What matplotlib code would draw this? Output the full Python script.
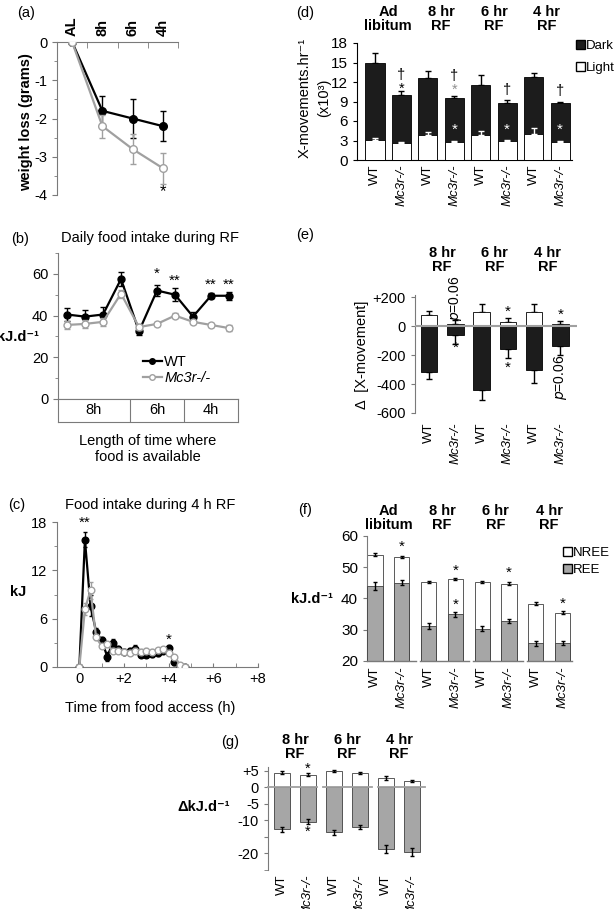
import numpy as np
import matplotlib
matplotlib.use('Agg')
import matplotlib.pyplot as plt
from matplotlib.patches import Patch
from matplotlib.lines import Line2D
import matplotlib.transforms as mtrans

plt.rcParams['font.family'] = ['Liberation Sans', 'DejaVu Sans']
plt.rcParams['font.size'] = 10
plt.rcParams['axes.unicode_minus'] = False

# ---------------- data ----------------
# (a) weight loss
wl_labels = ['AL', '8h', '6h', '4h']
wl_wt = [0, -1.8, -2.0, -2.2]
wl_wt_err = [0, 0.4, 0.5, 0.4]
wl_ko = [0, -2.2, -2.8, -3.3]
wl_ko_err = [0, 0.3, 0.4, 0.4]

# (b) daily food intake during RF
day_wt = [40.5, 39.5, 40.5, 57.5, 32.5, 52, 50, 39.5, 49.5, 49.5]
day_wt_err = [3, 3, 3.5, 3.5, 2, 2.5, 3, 2, 1.2, 2]
day_ko = [35.5, 36, 37, 50.5, 34.5, 36, 40, 37, 35.5, 34]
day_ko_err = [2, 2, 2, 2, 1.5, 1, 1, 1, 1, 1.5]
day_groups = ['8h', '6h', '4h']
day_stars = ['', '', '', '', '', '*', '**', '', '**', '**']
day_star_y = [0, 0, 0, 0, 0, 60, 56.5, 0, 55, 55]

# (c) food intake during 4 h RF
t_hours = [0, 0.25, 0.5, 0.75, 1.0, 1.25, 1.5, 1.75, 2.0, 2.25,
           2.5, 2.75, 3.0, 3.25, 3.5, 3.75, 4.0, 4.25, 4.5, 4.75]
fi_wt = [0, 15.8, 7.6, 4.4, 3.3, 1.3, 3.0, 2.2, 1.9, 2.0,
         2.2, 1.5, 1.5, 1.6, 1.7, 2.0, 2.4, 0.6, 0.1, 0]
fi_wt_err = [0, 0.9, 1.3, 0.5, 0.4, 0.6, 0.5, 0.4, 0.3, 0.4,
             0.5, 0.3, 0.3, 0.3, 0.3, 0.3, 0.3, 0.3, 0.1, 0]
fi_ko = [0, 7.2, 9.5, 3.7, 2.6, 2.8, 2.0, 2.0, 1.9, 1.8,
         2.0, 1.9, 2.0, 1.9, 2.1, 2.2, 1.8, 1.3, 0.3, 0]
fi_ko_err = [0, 0.8, 1.0, 0.4, 0.3, 0.3, 0.3, 0.3, 0.3, 0.3,
             0.3, 0.3, 0.3, 0.3, 0.3, 0.3, 0.3, 0.2, 0.1, 0]

# shared bar-chart categories
group_rf = ['Ad\nlibitum', '8 hr\nRF', '6 hr\nRF', '4 hr\nRF']
geno = ['WT', 'Mc3r-/-']

# (d) activity
act_total = [15.0, 10.0, 12.6, 9.6, 11.6, 8.8, 12.8, 8.8]
act_total_err = [1.5, 0.6, 1.1, 0.2, 1.5, 0.4, 0.6, 0.15]
act_light = [3.1, 2.6, 3.8, 2.7, 3.9, 2.9, 4.0, 2.7]
act_light_err = [0.3, 0.2, 0.5, 0.2, 0.5, 0.2, 1.0, 0.3]

# (e) change in activity
dact_light = [75, 13, 100, 27, 100, 13]
dact_light_err = [30, 27, 50, 27, 50, 21]
dact_dark = [-318, -61, -440, -156, -305, -136]
dact_dark_err = [50, 61, 68, 61, 88, 61]

# (f) energy expenditure
ee_total = [54.0, 53.2, 45.3, 46.3, 45.2, 44.8, 38.4, 35.5]
ee_total_err = [0.4, 0.4, 0.4, 0.4, 0.3, 0.5, 0.5, 0.4]
ee_ree = [44.0, 45.1, 31.3, 34.9, 30.4, 32.8, 25.7, 25.7]
ee_ree_err = [1.3, 0.7, 0.9, 0.7, 0.9, 0.7, 0.8, 0.7]

# (g) change in energy expenditure
dee_nree = [4.4, 3.7, 4.9, 4.2, 2.6, 1.7]
dee_nree_err = [0.4, 0.4, 0.3, 0.4, 0.6, 0.3]
dee_ree = [-12.7, -10.4, -13.6, -12.1, -18.6, -19.6]
dee_ree_err = [0.8, 0.7, 0.7, 0.6, 1.2, 1.1]

# ---------------- figure ----------------
W, H = 614, 909
fig = plt.figure(figsize=(W / 100, H / 100), dpi=100)

GREY = '#a0a0a0'
FILL = '#a6a6a6'
AXC = '#7a7a7a'
DARK = '#1c1c1c'


def ax_px(l, t, r, b):
    return fig.add_axes([l / W, 1 - b / H, (r - l) / W, (b - t) / H])


def ftext(x, y, s, **kw):
    fig.text(x / W, 1 - y / H, s, **kw)


def header(ax, xs, labels, y):
    tr = mtrans.blended_transform_factory(ax.transData, fig.transFigure)
    for xx, lab in zip(xs, labels):
        ax.text(xx, 1 - y / H, lab, transform=tr, ha='center', va='center',
                fontweight='bold', fontsize=10.5, linespacing=1.05)


def bar_xlabels(ax, n, pad):
    ax.set_xticks(range(n))
    ax.set_xticklabels((geno * 4)[:n], rotation=90, fontsize=9.5, va='top')
    for lab in ax.get_xticklabels():
        if lab.get_text() != 'WT':
            lab.set_fontstyle('italic')
    ax.tick_params(axis='x', length=0, pad=pad)


def line_style(ax):
    for s in ['top', 'right']:
        ax.spines[s].set_visible(False)
    for s in ['left', 'bottom', 'top']:
        ax.spines[s].set_color(AXC)
    ax.tick_params(colors=AXC, labelcolor='black', labelsize=10.5)
    ax.tick_params(which='minor', colors=AXC)


# ---------- (a) ----------
ax = ax_px(57, 42, 178, 195)
line_style(ax)
ax.spines['top'].set_visible(True)
ax.spines['bottom'].set_visible(False)
x4 = np.arange(4)
ax.errorbar(x4, wl_wt, yerr=wl_wt_err, color='black', lw=1.6, marker='o', ms=5.5,
            mfc='black', mec='black', capsize=2, elinewidth=1, zorder=3)
ax.errorbar(x4, wl_ko, yerr=wl_ko_err, color=GREY, lw=1.6, marker='o', ms=5.5,
            mfc='white', mec=GREY, capsize=2, elinewidth=1, zorder=4)
ax.set_xlim(-0.5, 3.5)
ax.set_ylim(-4, 0)
ax.xaxis.tick_top()
ax.set_xticks(x4)
ax.set_xticklabels(wl_labels, rotation=90, fontweight='bold', fontsize=10.5)
ax.set_xticks([-0.5, 0.5, 1.5, 2.5, 3.5], minor=True)
ax.tick_params(axis='x', which='major', length=0, pad=4)
ax.tick_params(axis='x', which='minor', length=4, direction='in', top=True, bottom=False)
ax.set_yticks([0, -1, -2, -3, -4])
ax.set_yticklabels(['0', '-1', '-2', '-3', '-4'])
ax.set_yticks([-0.5, -1.5, -2.5, -3.5], minor=True)
ax.tick_params(axis='y', which='minor', length=2)
ax.text(3, -3.9, '*', ha='center', va='center', fontsize=12)
ftext(17, 13, '(a)', ha='left', va='center', fontsize=10.5)
ftext(26, 122, 'weight loss (grams)', rotation=90, ha='center', va='center',
      fontweight='bold', fontsize=10.5)

# ---------- (b) ----------
ax = ax_px(58, 253, 238, 399)
line_style(ax)
x10 = np.arange(10)
ax.errorbar(x10, day_wt, yerr=day_wt_err, color='black', lw=1.6, marker='o', ms=5,
            mfc='black', mec='black', capsize=2, elinewidth=1, zorder=3)
ax.errorbar(x10, day_ko, yerr=day_ko_err, color=GREY, lw=1.6, marker='o', ms=5,
            mfc='white', mec=GREY, capsize=2, elinewidth=1, zorder=4)
for xx, s, yy in zip(x10, day_stars, day_star_y):
    if s:
        ax.text(xx, yy, s, ha='center', va='center', fontsize=11)
ax.set_xlim(-0.5, 9.5)
ax.set_ylim(0, 70)
ax.set_xticks([])
ax.set_yticks([0, 20, 40, 60])
ax.set_yticks([10, 30, 50, 70], minor=True)
ax.tick_params(axis='y', which='minor', length=2)
leg_handles = [Line2D([], [], color='black', lw=1.6, marker='o', ms=4, mfc='black', label='WT'),
               Line2D([], [], color=GREY, lw=1.6, marker='o', ms=4, mfc='white', mec=GREY,
                      label='Mc3r-/-')]
leg = ax.legend(handles=leg_handles, loc='upper left', bbox_to_anchor=(143 / W, 1 - 355 / H),
                bbox_transform=fig.transFigure, frameon=False, fontsize=10.5,
                handlelength=1.3, handletextpad=0.15, labelspacing=0.15,
                borderpad=0, borderaxespad=0)
leg.get_texts()[1].set_fontstyle('italic')
ftext(20, 239, '(b)', ha='center', va='center', fontsize=10.5)
ftext(150, 238, 'Daily food intake during RF', ha='center', va='center', fontsize=10.5)
ftext(18, 337, 'kJ.d⁻¹', ha='center', va='center', fontweight='bold', fontsize=10.5)

tab = ax_px(58, 399, 238, 422)
tab.set_xlim(-0.5, 9.5)
tab.set_ylim(0, 1)
tab.set_xticks([])
tab.set_yticks([])
for s in tab.spines.values():
    s.set_color(AXC)
for xv in [3.5, 6.5]:
    tab.axvline(xv, color=AXC, lw=0.8)
for xc, lab in zip([1.5, 5, 8], day_groups):
    tab.text(xc, 0.5, lab, ha='center', va='center', fontsize=10.5)
ftext(148, 449, 'Length of time where\nfood is available', ha='center', va='center',
      fontsize=10.5, linespacing=1.2)

# ---------- (c) ----------
ax = ax_px(57, 522, 258, 667)
line_style(ax)
ax.errorbar(t_hours, fi_wt, yerr=fi_wt_err, color='black', lw=1.6, marker='o', ms=4.8,
            mfc='black', mec='black', capsize=1.5, elinewidth=1, zorder=3)
ax.errorbar(t_hours, fi_ko, yerr=fi_ko_err, color=GREY, lw=1.6, marker='o', ms=4.8,
            mfc='white', mec=GREY, capsize=1.5, elinewidth=1, zorder=4)
ax.set_xlim(-1, 8)
ax.set_ylim(0, 18)
ax.set_xticks([0, 2, 4, 6, 8])
ax.set_xticklabels(['0', '+2', '+4', '+6', '+8'])
ax.set_xticks([-1, 1, 3, 5, 7], minor=True)
ax.tick_params(axis='x', which='both', direction='in', length=3)
ax.set_yticks([0, 6, 12, 18])
ax.set_yticks([3, 9, 15], minor=True)
ax.tick_params(axis='y', which='minor', length=2)
ax.text(0.25, 17.9, '**', ha='center', va='center', fontsize=11)
ax.text(4.0, 3.4, '*', ha='center', va='center', fontsize=11)
ftext(17, 505, '(c)', ha='center', va='center', fontsize=10.5)
ftext(150, 505, 'Food intake during 4 h RF', ha='center', va='center', fontsize=10.5)
ftext(18, 592, 'kJ', ha='center', va='center', fontweight='bold', fontsize=10.5)
ftext(150, 708, 'Time from food access (h)', ha='center', va='center', fontsize=10.5)

# ---------- (d) ----------
ax = ax_px(357, 43, 572, 160)
x8 = np.arange(8)
z8 = np.zeros(8)
ax.bar(x8, act_total, width=0.72, color=DARK, edgecolor='black', lw=0.6, zorder=2)
ax.errorbar(x8, act_total, yerr=[z8, act_total_err], fmt='none', ecolor='black',
            capsize=2.5, elinewidth=1, zorder=1)
ax.bar(x8, act_light, width=0.72, color='white', edgecolor='black', lw=0.6, zorder=3)
ax.errorbar(x8, act_light, yerr=[z8, act_light_err], fmt='none', ecolor='white',
            capsize=2, elinewidth=1, zorder=4)
ax.set_xlim(-0.68, 7.45)
ax.set_ylim(0, 18)
ax.set_yticks(range(0, 19, 3))
for s in ['top', 'right']:
    ax.spines[s].set_visible(False)
ax.tick_params(axis='y', labelsize=11, length=3)
bar_xlabels(ax, 8, 3)
header(ax, [0.5, 2.5, 4.5, 6.5], group_rf, 19)
for xx, yy in zip([1, 3, 5, 7], [13.0, 12.9, 10.7, 10.6]):
    ax.text(xx, yy, '†', ha='center', va='center', fontsize=10.5)
ax.text(1, 10.9, '*', ha='center', va='center', fontsize=10.5, color='black')
ax.text(3, 10.8, '*', ha='center', va='center', fontsize=10.5, color='#909090')
for xx in [3, 5, 7]:
    ax.text(xx, 4.7, '*', ha='center', va='center', fontsize=11, color='white', zorder=5)
ax.legend(handles=[Patch(facecolor=DARK, edgecolor='black', label='Dark'),
                   Patch(facecolor='white', edgecolor='black', label='Light')],
          loc='upper left', bbox_to_anchor=(576 / W, 1 - 40 / H),
          bbox_transform=fig.transFigure, frameon=False, fontsize=9.5,
          handlelength=0.65, handleheight=0.65, handletextpad=0.1, labelspacing=0.75,
          borderpad=0, borderaxespad=0)
ftext(305, 13, '(d)', ha='center', va='center', fontsize=10.5)
ftext(305, 98, 'X-movements.hr⁻¹', rotation=90, ha='center', va='center', fontsize=10.5)
ftext(324, 98, '(x10³)', rotation=90, ha='center', va='center', fontsize=10.5)

# ---------- (e) ----------
ax = ax_px(415, 295, 577, 413)
x6 = np.arange(6)
z6 = np.zeros(6)
ax.bar(x6, dact_light, width=0.63, color='white', edgecolor='black', lw=0.6, zorder=2)
ax.errorbar(x6, dact_light, yerr=[z6, dact_light_err], fmt='none', ecolor='black',
            capsize=2, elinewidth=1, zorder=1)
ax.bar(x6, dact_dark, width=0.63, color=DARK, edgecolor='black', lw=0.6, zorder=2)
ax.errorbar(x6, dact_dark, yerr=[dact_dark_err, z6], fmt='none', ecolor='black',
            capsize=2, elinewidth=1, zorder=1)
ax.axhline(0, color=GREY, lw=1.5, zorder=3)
ax.set_xlim(-0.53, 5.63)
ax.set_ylim(-600, 215)
ax.set_yticks([200, 0, -200, -400, -600])
ax.set_yticklabels(['+200', '0', '-200', '-400', '-600'])
for s in ['top', 'right', 'bottom']:
    ax.spines[s].set_visible(False)
ax.spines['left'].set_color(AXC)
ax.tick_params(axis='y', labelsize=10.5, length=3, color=AXC)
bar_xlabels(ax, 6, 7)
header(ax, [0.5, 2.5, 4.5], group_rf[1:], 260)
ax.text(1, 190, '$p$=0.06', rotation=90, ha='center', va='center', fontsize=10)
ax.text(5, -353, '$p$=0.06', rotation=90, ha='center', va='center', fontsize=10)
for xx, yy in [(1, -150), (3, 100), (3, -287), (5, 80)]:
    ax.text(xx, yy, '*', ha='center', va='center', fontsize=11)
ftext(305, 235, '(e)', ha='center', va='center', fontsize=10.5)
ftext(362, 355, 'Δ  [X-movement]', rotation=90, ha='center', va='center', fontsize=10.5)

# ---------- (f) ----------
ax = ax_px(367, 536, 572, 661)
ax.bar(x8, ee_total, width=0.57, color='white', edgecolor='#404040', lw=0.6, zorder=2)
ax.errorbar(x8, ee_total, yerr=ee_total_err, fmt='none', ecolor='black',
            capsize=1.5, elinewidth=1, zorder=4)
ax.bar(x8, ee_ree, width=0.57, color=FILL, edgecolor='#404040', lw=0.6, zorder=3)
ax.errorbar(x8, ee_ree, yerr=ee_ree_err, fmt='none', ecolor='black',
            capsize=1.5, elinewidth=1, zorder=4)
ax.set_xlim(-0.3, 7.35)
ax.set_ylim(20, 60)
ax.set_yticks(range(20, 61, 10))
for s in ['top', 'right', 'bottom']:
    ax.spines[s].set_visible(False)
ax.spines['left'].set_color(AXC)
ax.tick_params(axis='y', labelsize=11, length=3, color=AXC)
for x0, x1 in [(-0.3, 1.52), (1.67, 3.52), (3.67, 5.52), (5.67, 7.35)]:
    ax.plot([x0, x1], [20, 20], color=AXC, lw=1, clip_on=False, zorder=5)
bar_xlabels(ax, 8, 4)
header(ax, [0.5, 2.5, 4.5, 6.5], group_rf, 518)
for xx, yy in [(1, 56.5), (3, 49.0), (3, 38.0), (5, 48.3), (7, 38.3)]:
    ax.text(xx, yy, '*', ha='center', va='center', fontsize=11)
ax.legend(handles=[Patch(facecolor='white', edgecolor='black', label='NREE'),
                   Patch(facecolor=FILL, edgecolor='black', label='REE')],
          loc='upper left', bbox_to_anchor=(563 / W, 1 - 547 / H),
          bbox_transform=fig.transFigure, frameon=False, fontsize=9.5,
          handlelength=0.65, handleheight=0.65, handletextpad=0.1, labelspacing=0.4,
          borderpad=0, borderaxespad=0)
ftext(305, 510, '(f)', ha='center', va='center', fontsize=10.5)
ftext(312, 599, 'kJ.d⁻¹', ha='center', va='center', fontweight='bold', fontsize=10.5)

# ---------- (g) ----------
ax = ax_px(268, 767, 425, 870)
ax.bar(x6, dee_nree, width=0.58, color='white', edgecolor='#404040', lw=0.6, zorder=2)
ax.errorbar(x6, dee_nree, yerr=dee_nree_err, fmt='none', ecolor='black',
            capsize=1.5, elinewidth=1, zorder=4)
ax.bar(x6, dee_ree, width=0.58, color=FILL, edgecolor='#404040', lw=0.6, zorder=2)
ax.errorbar(x6, dee_ree, yerr=dee_ree_err, fmt='none', ecolor='black',
            capsize=1.5, elinewidth=1, zorder=4)
for x0, x1 in [(-0.54, 1.35), (1.58, 3.46), (3.69, 5.5)]:
    ax.plot([x0, x1], [0, 0], color=GREY, lw=1.3, zorder=3, clip_on=False)
ax.set_xlim(-0.54, 5.5)
ax.set_ylim(-25, 6.06)
ax.set_yticks([5, 0, -5, -10, -15, -20])
ax.set_yticklabels(['+5', '0', '-5', '-10', '', '-20'])
ax.set_yticks([-25], minor=True)
for s in ['top', 'right', 'bottom']:
    ax.spines[s].set_visible(False)
ax.spines['left'].set_color(AXC)
ax.tick_params(axis='y', which='both', labelsize=10.5, length=3, color=AXC)
bar_xlabels(ax, 6, 3)
header(ax, [0.5, 2.5, 4.5], group_rf[1:], 747)
ax.text(1, 5.6, '*', ha='center', va='center', fontsize=10.5)
ax.text(1, -13.6, '*', ha='center', va='center', fontsize=10.5)
ftext(230, 742, '(g)', ha='center', va='center', fontsize=10.5)
ftext(204, 807, 'ΔkJ.d⁻¹', ha='center', va='center', fontweight='bold', fontsize=10.5)

fig.savefig('out.png', dpi=100)
